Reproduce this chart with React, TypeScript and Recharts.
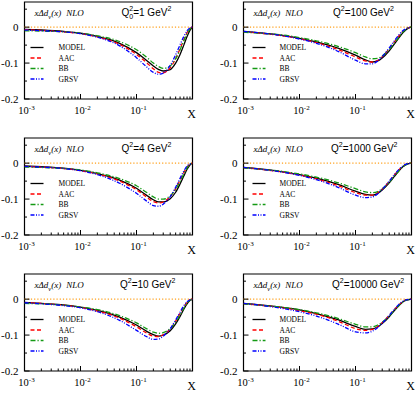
import React from 'react';
import { LineChart, Line, XAxis, YAxis, ReferenceLine, ReferenceArea } from 'recharts';

// ---------- data ----------
const xValues = [0.001, 0.002, 0.005, 0.01, 0.02, 0.05, 0.1, 0.15, 0.2, 0.25, 0.3, 0.4, 0.5, 0.6, 0.7, 0.8, 0.9, 1.0];
const seriesNames = ['MODEL', 'AAC', 'BB', 'GRSV'];
const xTickValues = [
  0.001, 0.002, 0.003, 0.004, 0.005, 0.006, 0.007, 0.008, 0.009,
  0.01, 0.02, 0.03, 0.04, 0.05, 0.06, 0.07, 0.08, 0.09,
  0.1, 0.2, 0.3, 0.4, 0.5, 0.6, 0.7, 0.8, 0.9, 1,
];
const yTickValues = [0.05, 0, -0.05, -0.1, -0.15, -0.2];
const yMajorTicks = [0, -0.1, -0.2];

// Q0^2 = 1 GeV^2
const q1Model = [-0.006, -0.008, -0.012, -0.017, -0.026, -0.045, -0.071, -0.092, -0.108, -0.118, -0.122, -0.118, -0.1, -0.076, -0.05, -0.026, -0.009, 0];
const q1Aac = [-0.007, -0.009, -0.013, -0.018, -0.027, -0.048, -0.076, -0.098, -0.116, -0.126, -0.127, -0.113, -0.088, -0.06, -0.035, -0.015, -0.004, 0];
const q1Bb = [-0.01, -0.011, -0.013, -0.017, -0.024, -0.04, -0.063, -0.083, -0.1, -0.11, -0.115, -0.108, -0.088, -0.063, -0.038, -0.018, -0.005, 0];
const q1Grsv = [-0.008, -0.01, -0.013, -0.018, -0.028, -0.052, -0.085, -0.11, -0.126, -0.131, -0.128, -0.106, -0.077, -0.049, -0.026, -0.01, -0.002, 0];

// Q^2 = 100 GeV^2
const q100Model = [-0.012, -0.016, -0.023, -0.031, -0.041, -0.059, -0.078, -0.091, -0.097, -0.094, -0.086, -0.066, -0.046, -0.029, -0.016, -0.007, -0.002, 0];
const q100Aac = [-0.013, -0.017, -0.024, -0.032, -0.043, -0.063, -0.083, -0.094, -0.097, -0.092, -0.082, -0.06, -0.04, -0.024, -0.012, -0.005, -0.001, 0];
const q100Bb = [-0.014, -0.017, -0.022, -0.029, -0.038, -0.054, -0.071, -0.083, -0.088, -0.087, -0.08, -0.062, -0.043, -0.027, -0.014, -0.006, -0.001, 0];
const q100Grsv = [-0.012, -0.016, -0.024, -0.033, -0.045, -0.068, -0.092, -0.102, -0.102, -0.094, -0.082, -0.058, -0.037, -0.021, -0.01, -0.004, -0.001, 0];

// Q^2 = 4 GeV^2
const q4Model = [-0.008, -0.01, -0.014, -0.02, -0.029, -0.047, -0.07, -0.089, -0.102, -0.108, -0.108, -0.099, -0.081, -0.058, -0.036, -0.017, -0.005, 0];
const q4Aac = [-0.009, -0.011, -0.015, -0.021, -0.03, -0.05, -0.074, -0.094, -0.107, -0.111, -0.108, -0.093, -0.071, -0.047, -0.026, -0.011, -0.003, 0];
const q4Bb = [-0.011, -0.012, -0.015, -0.019, -0.027, -0.043, -0.063, -0.081, -0.094, -0.1, -0.1, -0.091, -0.073, -0.051, -0.03, -0.013, -0.003, 0];
const q4Grsv = [-0.009, -0.011, -0.015, -0.021, -0.032, -0.056, -0.084, -0.105, -0.118, -0.12, -0.114, -0.093, -0.067, -0.042, -0.022, -0.008, -0.002, 0];

// Q^2 = 1000 GeV^2
const q1000Model = [-0.012, -0.016, -0.024, -0.032, -0.042, -0.06, -0.078, -0.087, -0.089, -0.084, -0.075, -0.055, -0.036, -0.021, -0.01, -0.004, -0.001, 0];
const q1000Aac = [-0.013, -0.017, -0.025, -0.033, -0.044, -0.063, -0.082, -0.089, -0.089, -0.082, -0.072, -0.051, -0.032, -0.018, -0.009, -0.003, -0.001, 0];
const q1000Bb = [-0.013, -0.017, -0.023, -0.03, -0.039, -0.055, -0.071, -0.08, -0.082, -0.079, -0.071, -0.053, -0.035, -0.021, -0.01, -0.004, -0.001, 0];
const q1000Grsv = [-0.012, -0.017, -0.025, -0.034, -0.046, -0.068, -0.089, -0.096, -0.094, -0.085, -0.073, -0.05, -0.031, -0.017, -0.008, -0.003, -0.001, 0];

// Q^2 = 10 GeV^2
const q10Model = [-0.009, -0.012, -0.016, -0.022, -0.031, -0.05, -0.072, -0.089, -0.099, -0.103, -0.1, -0.088, -0.069, -0.048, -0.028, -0.013, -0.004, 0];
const q10Aac = [-0.01, -0.012, -0.017, -0.023, -0.033, -0.053, -0.077, -0.094, -0.103, -0.104, -0.099, -0.083, -0.061, -0.039, -0.021, -0.009, -0.002, 0];
const q10Bb = [-0.012, -0.013, -0.017, -0.022, -0.029, -0.046, -0.066, -0.082, -0.092, -0.095, -0.093, -0.082, -0.064, -0.044, -0.025, -0.011, -0.003, 0];
const q10Grsv = [-0.01, -0.013, -0.018, -0.024, -0.035, -0.059, -0.087, -0.104, -0.112, -0.111, -0.103, -0.082, -0.058, -0.036, -0.018, -0.007, -0.002, 0];

// Q^2 = 10000 GeV^2
const q10000Model = [-0.012, -0.016, -0.023, -0.03, -0.04, -0.058, -0.076, -0.084, -0.083, -0.077, -0.068, -0.049, -0.031, -0.018, -0.008, -0.003, -0.001, 0];
const q10000Aac = [-0.013, -0.017, -0.024, -0.032, -0.042, -0.062, -0.082, -0.087, -0.084, -0.076, -0.065, -0.045, -0.028, -0.015, -0.007, -0.002, -0.001, 0];
const q10000Bb = [-0.013, -0.017, -0.023, -0.029, -0.038, -0.054, -0.07, -0.077, -0.077, -0.072, -0.064, -0.047, -0.03, -0.017, -0.008, -0.003, -0.001, 0];
const q10000Grsv = [-0.012, -0.017, -0.026, -0.035, -0.047, -0.07, -0.091, -0.094, -0.089, -0.079, -0.067, -0.045, -0.027, -0.014, -0.006, -0.002, -0.001, 0];

const panelScales = ['1', '100', '4', '1000', '10', '10000'];

// ---------- layout ----------
const CHART_W = 207;
const CHART_H = 121;
const PLOT_LEFT = 24.5;
const PLOT_RIGHT = 192.5;
const PLOT_TOP = 2;
const PLOT_BOTTOM = 99;
const COL_LEFT = [0, 218.5];
const ROW_TOP = [0, 136, 272];
const Q_LABEL_X = [121.5, 114, 121.5, 112, 120, 113];

const COLORS = ['#000000', '#ff0000', '#149a14', '#0000ff'];
const DASHES = ['', '4 2.5', '5 2 1.2 2', '4 1.5 1 1.5 1 1.5'];
const KEYS = ['model', 'aac', 'bb', 'grsv'];

const SERIF = '"Liberation Serif", "DejaVu Serif", serif';
const SANS = '"Liberation Sans", Arial, sans-serif';

const buildData = (m: number[], a: number[], b: number[], g: number[]) =>
  xValues.map((x, i) => ({ x, model: m[i], aac: a[i], bb: b[i], grsv: g[i] }));

const panels = [
  { data: buildData(q1Model, q1Aac, q1Bb, q1Grsv), scale: panelScales[0], sub0: true },
  { data: buildData(q100Model, q100Aac, q100Bb, q100Grsv), scale: panelScales[1], sub0: false },
  { data: buildData(q4Model, q4Aac, q4Bb, q4Grsv), scale: panelScales[2], sub0: false },
  { data: buildData(q1000Model, q1000Aac, q1000Bb, q1000Grsv), scale: panelScales[3], sub0: false },
  { data: buildData(q10Model, q10Aac, q10Bb, q10Grsv), scale: panelScales[4], sub0: false },
  { data: buildData(q10000Model, q10000Aac, q10000Bb, q10000Grsv), scale: panelScales[5], sub0: false },
];

const XTick = (props: any) => {
  const { x, y, payload } = props;
  const v = payload.value as number;
  const lg = Math.log10(v);
  const exp = Math.round(lg);
  const major = Math.abs(lg - exp) < 1e-6;
  return (
    <g>
      <line x1={x} x2={x} y1={y} y2={y - (major ? 5 : 2.5)} stroke="#000" strokeWidth={1} />
      {major && exp < 0 && (
        <text x={x + 2} y={y + 15} textAnchor="middle" fontFamily={SERIF} fontSize={10.5} fill="#000">
          10
          <tspan dy={-4.5} fontSize={7}>{exp}</tspan>
        </text>
      )}
    </g>
  );
};

const YTick = (props: any) => {
  const { x, y, payload } = props;
  const v = payload.value as number;
  const major = yMajorTicks.some((t) => Math.abs(t - v) < 1e-9);
  return (
    <g>
      <line x1={x} x2={x + (major ? 5 : 2.5)} y1={y} y2={y} stroke="#000" strokeWidth={1} />
      {major && (
        <text x={x - 6} y={y + 3.5} textAnchor="end" fontFamily={SERIF} fontSize={11} fill="#000">
          {v === 0 ? '0' : v.toFixed(1)}
        </text>
      )}
    </g>
  );
};

const Overlay = ({ idx }: { idx: number }) => {
  const p = panels[idx];
  const col = idx % 2;
  const lineX0 = PLOT_LEFT + (col === 0 ? 6 : 9);
  const lineX1 = lineX0 + 13;
  const labelX = PLOT_LEFT + (col === 0 ? 34 : 36);
  const rowY = [45.5, 56, 66.5, 77];
  return (
    <svg width={CHART_W} height={CHART_H} style={{ position: 'absolute', left: 0, top: 0, pointerEvents: 'none' }}>
      <text x={PLOT_LEFT + 10} y={PLOT_TOP + 14} fontFamily={SERIF} fontStyle="italic" fontSize={9} fill="#000">
        xΔd
        <tspan dy={2.5} fontSize={6.5}>v</tspan>
        <tspan dy={-2.5}>(x)</tspan>
        <tspan dx={5}>NLO</tspan>
      </text>
      <text x={Q_LABEL_X[idx]} y={PLOT_TOP + 14} fontFamily={SANS} fontSize={10} fill="#000">
        Q
        {p.sub0 ? (
          <>
            <tspan dy={3} fontSize={7}>0</tspan>
            <tspan dx={-3.9} dy={-8} fontSize={7}>2</tspan>
            <tspan dy={5}>{'=' + p.scale + ' GeV'}</tspan>
          </>
        ) : (
          <>
            <tspan dy={-5} fontSize={7}>2</tspan>
            <tspan dy={5}>{'=' + p.scale + ' GeV'}</tspan>
          </>
        )}
        <tspan dy={-5} fontSize={7}>2</tspan>
      </text>
      {seriesNames.map((name, i) => (
        <g key={name}>
          <line
            x1={lineX0}
            x2={lineX1}
            y1={PLOT_TOP + rowY[i]}
            y2={PLOT_TOP + rowY[i]}
            stroke={COLORS[i]}
            strokeWidth={1.3}
            strokeDasharray={DASHES[i] || undefined}
          />
          <text x={labelX} y={PLOT_TOP + rowY[i] + 2.7} fontFamily={SERIF} fontSize={7.5} fill="#000">
            {name}
          </text>
        </g>
      ))}
      <text x={PLOT_RIGHT - 1} y={PLOT_BOTTOM + 19} textAnchor="middle" fontFamily={SERIF} fontSize={12} fill="#000">
        X
      </text>
    </svg>
  );
};

const Panel = ({ idx }: { idx: number }) => {
  const p = panels[idx];
  const col = idx % 2;
  const row = Math.floor(idx / 2);
  return (
    <div style={{ position: 'absolute', left: COL_LEFT[col], top: ROW_TOP[row], width: CHART_W, height: CHART_H }}>
      <LineChart
        width={CHART_W}
        height={CHART_H}
        data={p.data}
        margin={{ top: PLOT_TOP, right: CHART_W - PLOT_RIGHT, bottom: 0, left: 0 }}
      >
        <XAxis
          dataKey="x"
          type="number"
          scale="log"
          domain={[0.001, 1]}
          allowDataOverflow
          ticks={xTickValues}
          interval={0}
          tickSize={0}
          tickMargin={0}
          axisLine={false}
          tickLine={false}
          height={CHART_H - PLOT_BOTTOM}
          tick={<XTick />}
        />
        <YAxis
          type="number"
          domain={[-0.2, 0.07]}
          allowDataOverflow
          ticks={yTickValues}
          interval={0}
          tickSize={0}
          tickMargin={0}
          axisLine={false}
          tickLine={false}
          width={PLOT_LEFT}
          tick={<YTick />}
        />
        <ReferenceLine y={0} stroke="#ff9f1a" strokeWidth={1.2} strokeDasharray="1.2 2" />
        {KEYS.map((k, i) => (
          <Line
            key={k}
            dataKey={k}
            type="monotone"
            stroke={COLORS[i]}
            strokeWidth={1.3}
            strokeDasharray={DASHES[i] || undefined}
            dot={false}
            activeDot={false}
            isAnimationActive={false}
          />
        ))}
        <ReferenceArea
          x1={0.001}
          x2={1}
          y1={-0.2}
          y2={0.07}
          fill="none"
          fillOpacity={0}
          stroke="#000"
          strokeWidth={1.2}
          ifOverflow="visible"
        />
      </LineChart>
      <Overlay idx={idx} />
    </div>
  );
};

export default function App() {
  return (
    <div style={{ position: 'absolute', left: 0, top: 0, width: 415, height: 393, background: '#fff', overflow: 'hidden' }}>
      {panels.map((_, i) => (
        <Panel key={i} idx={i} />
      ))}
    </div>
  );
}
